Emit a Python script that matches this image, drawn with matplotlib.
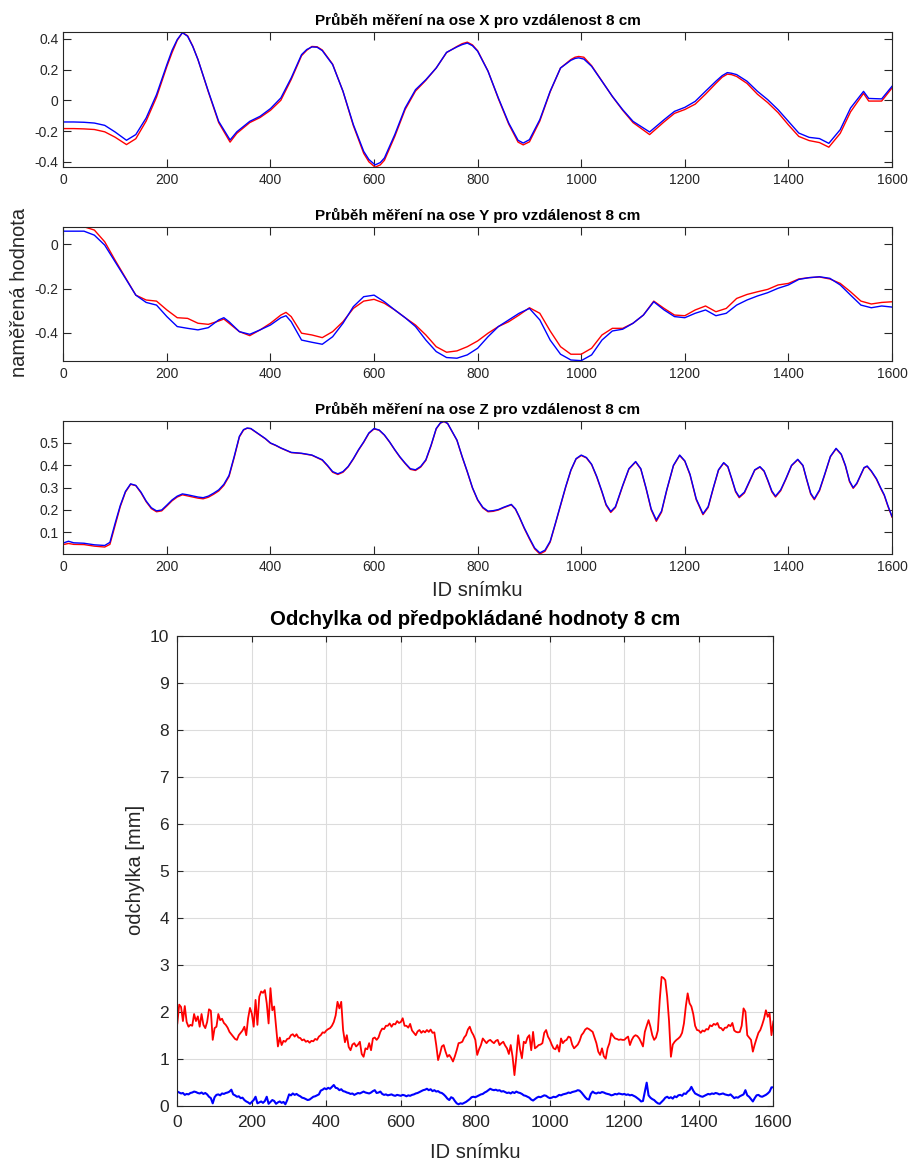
import numpy as np
import matplotlib
matplotlib.use('Agg')
import matplotlib.pyplot as plt

plt.rcParams['font.family'] = ['Liberation Sans', 'DejaVu Sans']
plt.rcParams['axes.unicode_minus'] = False

# ---------------- data ----------------
titles = ["Průběh měření na ose X pro vzdálenost 8 cm",
          "Průběh měření na ose Y pro vzdálenost 8 cm",
          "Průběh měření na ose Z pro vzdálenost 8 cm"]
bottom_title = "Odchylka od předpokládané hodnoty 8 cm"
xlabel = "ID snímku"
ylabel_top = "naměřená hodnota"
ylabel_bottom = "odchylka [mm]"

x_ticks = [0, 200, 400, 600, 800, 1000, 1200, 1400, 1600]
x_ticklabels = ["0", "200", "400", "600", "800", "1000", "1200", "1400", "1600"]

# X axis
frames_x = [0, 20, 40, 60, 80, 100, 122, 140, 160, 180,
            200, 210, 220, 230, 240, 250, 260, 280, 300, 322,
            335, 360, 380, 400, 420, 440, 460, 470, 480, 490,
            500, 520, 540, 560, 580, 590, 602, 612, 620, 640,
            660, 680, 700, 720, 740, 760, 770, 780, 790, 800,
            820, 840, 860, 878, 888, 900, 920, 940, 960, 980,
            988, 995, 1005, 1020, 1040, 1060, 1080, 1100, 1132, 1160,
            1180, 1200, 1220, 1240, 1260, 1272, 1282, 1290, 1300, 1320,
            1340, 1360, 1380, 1400, 1420, 1440, 1460, 1478, 1500, 1520,
            1545, 1555, 1580, 1600]
x_blue = [-0.141, -0.141, -0.143, -0.148, -0.163, -0.206, -0.260, -0.223, -0.115, 0.037,
          0.232, 0.325, 0.395, 0.440, 0.416, 0.350, 0.265, 0.059, -0.137, -0.258,
          -0.205, -0.137, -0.104, -0.054, 0.015, 0.145, 0.297, 0.330, 0.347, 0.345,
          0.323, 0.232, 0.059, -0.158, -0.332, -0.385, -0.420, -0.405, -0.375, -0.223,
          -0.050, 0.069, 0.134, 0.210, 0.312, 0.347, 0.362, 0.372, 0.355, 0.319,
          0.189, 0.015, -0.148, -0.260, -0.278, -0.256, -0.126, 0.059, 0.210, 0.260,
          0.272, 0.276, 0.268, 0.221, 0.124, 0.026, -0.061, -0.137, -0.206, -0.126,
          -0.072, -0.046, -0.007, 0.059, 0.124, 0.160, 0.180, 0.176, 0.167, 0.124,
          0.059, 0.004, -0.061, -0.137, -0.213, -0.241, -0.249, -0.280, -0.191, -0.050,
          0.058, 0.012, 0.009, 0.091]
x_red = [-0.184, -0.184, -0.186, -0.190, -0.205, -0.240, -0.288, -0.250, -0.135, 0.020,
         0.220, 0.310, 0.390, 0.440, 0.420, 0.352, 0.265, 0.055, -0.145, -0.272,
         -0.215, -0.145, -0.112, -0.065, 0.000, 0.135, 0.290, 0.325, 0.350, 0.348,
         0.327, 0.235, 0.058, -0.165, -0.345, -0.400, -0.435, -0.420, -0.390, -0.235,
         -0.060, 0.060, 0.130, 0.210, 0.310, 0.350, 0.368, 0.378, 0.360, 0.322,
         0.190, 0.010, -0.155, -0.272, -0.290, -0.270, -0.135, 0.055, 0.210, 0.265,
         0.280, 0.285, 0.280, 0.225, 0.125, 0.025, -0.065, -0.145, -0.223, -0.140,
         -0.085, -0.060, -0.025, 0.040, 0.110, 0.150, 0.170, 0.167, 0.155, 0.110,
         0.040, -0.015, -0.080, -0.160, -0.235, -0.262, -0.275, -0.305, -0.215, -0.075,
         0.045, -0.005, -0.005, 0.080]

# Y axis
frames_y = [0, 20, 40, 60, 80, 100, 120, 140, 160, 180,
            200, 220, 240, 260, 280, 300, 310, 320, 340, 360,
            380, 400, 420, 430, 440, 460, 480, 500, 520, 540,
            560, 580, 600, 620, 640, 660, 680, 700, 720, 740,
            760, 780, 800, 820, 840, 860, 880, 900, 920, 940,
            960, 980, 1000, 1020, 1040, 1060, 1080, 1100, 1120, 1140,
            1160, 1180, 1200, 1220, 1240, 1260, 1280, 1300, 1320, 1340,
            1360, 1380, 1400, 1420, 1440, 1460, 1480, 1500, 1520, 1540,
            1560, 1580, 1600]
y_blue = [0.060, 0.060, 0.060, 0.042, -0.003, -0.078, -0.153, -0.229, -0.262, -0.274,
          -0.326, -0.371, -0.379, -0.386, -0.376, -0.341, -0.331, -0.349, -0.394, -0.406,
          -0.386, -0.364, -0.331, -0.322, -0.349, -0.432, -0.442, -0.451, -0.417, -0.356,
          -0.281, -0.236, -0.229, -0.259, -0.296, -0.331, -0.371, -0.432, -0.484, -0.511,
          -0.514, -0.499, -0.469, -0.417, -0.371, -0.341, -0.311, -0.289, -0.341, -0.432,
          -0.496, -0.522, -0.525, -0.499, -0.432, -0.391, -0.383, -0.356, -0.319, -0.259,
          -0.296, -0.326, -0.331, -0.311, -0.296, -0.322, -0.311, -0.274, -0.251, -0.233,
          -0.218, -0.198, -0.183, -0.158, -0.150, -0.146, -0.153, -0.183, -0.229, -0.274,
          -0.286, -0.278, -0.283]
y_red = [0.080, 0.080, 0.080, 0.065, 0.012, -0.071, -0.150, -0.229, -0.251, -0.256,
         -0.296, -0.331, -0.334, -0.356, -0.361, -0.346, -0.337, -0.356, -0.394, -0.412,
         -0.386, -0.356, -0.319, -0.307, -0.326, -0.401, -0.409, -0.421, -0.394, -0.349,
         -0.289, -0.256, -0.248, -0.266, -0.296, -0.331, -0.364, -0.409, -0.462, -0.487,
         -0.481, -0.462, -0.436, -0.401, -0.371, -0.349, -0.319, -0.286, -0.311, -0.391,
         -0.462, -0.496, -0.496, -0.469, -0.409, -0.379, -0.379, -0.356, -0.319, -0.256,
         -0.289, -0.319, -0.322, -0.296, -0.278, -0.304, -0.289, -0.244, -0.226, -0.214,
         -0.203, -0.183, -0.176, -0.156, -0.150, -0.147, -0.156, -0.176, -0.214, -0.256,
         -0.269, -0.262, -0.259]

# Z axis
frames_z = [0, 10, 20, 40, 60, 80, 90, 100, 110, 120,
            130, 140, 150, 160, 170, 180, 190, 200, 210, 220,
            230, 240, 260, 270, 280, 290, 300, 310, 320, 330,
            340, 348, 355, 362, 370, 390, 400, 410, 420, 440,
            460, 480, 500, 510, 520, 530, 540, 550, 560, 570,
            580, 590, 600, 610, 620, 630, 640, 650, 660, 670,
            680, 690, 700, 710, 720, 728, 735, 742, 750, 760,
            770, 780, 790, 800, 810, 820, 830, 840, 850, 865,
            873, 880, 890, 900, 910, 920, 930, 940, 950, 960,
            970, 980, 990, 1000, 1010, 1020, 1030, 1040, 1048, 1057,
            1066, 1080, 1092, 1105, 1115, 1125, 1135, 1145, 1155, 1165,
            1178, 1190, 1200, 1210, 1222, 1235, 1245, 1255, 1265, 1275,
            1283, 1290, 1298, 1305, 1315, 1325, 1335, 1345, 1353, 1360,
            1368, 1375, 1385, 1395, 1406, 1418, 1428, 1435, 1443, 1450,
            1460, 1470, 1481, 1492, 1502, 1510, 1518, 1525, 1532, 1540,
            1546, 1552, 1560, 1570, 1578, 1585, 1592, 1600]
z_blue = [0.052, 0.060, 0.053, 0.051, 0.044, 0.041, 0.055, 0.140, 0.220, 0.283,
          0.317, 0.310, 0.280, 0.240, 0.210, 0.196, 0.200, 0.222, 0.245, 0.262,
          0.272, 0.268, 0.258, 0.255, 0.262, 0.275, 0.290, 0.315, 0.355, 0.440,
          0.530, 0.560, 0.567, 0.565, 0.552, 0.520, 0.500, 0.490, 0.478, 0.458,
          0.454, 0.446, 0.425, 0.400, 0.372, 0.362, 0.372, 0.395, 0.430, 0.470,
          0.505, 0.545, 0.565, 0.558, 0.536, 0.505, 0.470, 0.438, 0.410, 0.385,
          0.380, 0.395, 0.425, 0.490, 0.565, 0.590, 0.597, 0.588, 0.555, 0.513,
          0.440, 0.372, 0.300, 0.246, 0.212, 0.195, 0.197, 0.202, 0.212, 0.225,
          0.205, 0.172, 0.120, 0.074, 0.030, 0.008, 0.020, 0.060, 0.140, 0.223,
          0.305, 0.379, 0.430, 0.446, 0.435, 0.405, 0.350, 0.283, 0.225, 0.193,
          0.215, 0.310, 0.385, 0.417, 0.385, 0.300, 0.205, 0.155, 0.195, 0.290,
          0.400, 0.446, 0.420, 0.360, 0.250, 0.183, 0.215, 0.300, 0.380, 0.412,
          0.395, 0.345, 0.285, 0.259, 0.280, 0.330, 0.380, 0.394, 0.375, 0.335,
          0.285, 0.262, 0.290, 0.340, 0.400, 0.427, 0.400, 0.340, 0.275, 0.250,
          0.290, 0.360, 0.440, 0.476, 0.450, 0.400, 0.330, 0.300, 0.320, 0.360,
          0.390, 0.397, 0.375, 0.340, 0.300, 0.268, 0.220, 0.171]
z_red = [0.045, 0.050, 0.046, 0.045, 0.038, 0.034, 0.046, 0.130, 0.215, 0.280,
         0.315, 0.309, 0.277, 0.237, 0.206, 0.192, 0.196, 0.218, 0.241, 0.258,
         0.268, 0.263, 0.253, 0.250, 0.257, 0.270, 0.285, 0.310, 0.350, 0.435,
         0.527, 0.558, 0.566, 0.564, 0.551, 0.519, 0.499, 0.489, 0.477, 0.457,
         0.453, 0.445, 0.423, 0.398, 0.369, 0.359, 0.369, 0.393, 0.428, 0.468,
         0.503, 0.543, 0.563, 0.557, 0.535, 0.504, 0.469, 0.436, 0.408, 0.382,
         0.377, 0.392, 0.422, 0.487, 0.563, 0.589, 0.596, 0.587, 0.554, 0.512,
         0.438, 0.370, 0.298, 0.244, 0.209, 0.192, 0.194, 0.200, 0.210, 0.223,
         0.203, 0.170, 0.117, 0.070, 0.026, 0.003, 0.015, 0.056, 0.137, 0.220,
         0.302, 0.377, 0.428, 0.444, 0.433, 0.403, 0.347, 0.280, 0.221, 0.189,
         0.211, 0.307, 0.383, 0.415, 0.383, 0.297, 0.201, 0.149, 0.190, 0.287,
         0.398, 0.444, 0.418, 0.357, 0.246, 0.179, 0.211, 0.297, 0.378, 0.410,
         0.393, 0.342, 0.281, 0.255, 0.276, 0.327, 0.378, 0.392, 0.373, 0.332,
         0.281, 0.258, 0.286, 0.337, 0.398, 0.425, 0.398, 0.337, 0.271, 0.246,
         0.286, 0.357, 0.438, 0.474, 0.448, 0.397, 0.326, 0.297, 0.317, 0.357,
         0.388, 0.395, 0.373, 0.337, 0.297, 0.265, 0.217, 0.168]

# deviation plot (every 5th frame)
frames_dev = np.arange(0, 1601, 5)
dev_red = [
    1.75, 2.15, 2.10, 1.80, 2.12, 1.78, 1.68, 1.72, 1.70, 1.95, 1.80, 1.90, 1.68, 1.95, 1.72, 1.65, 1.78, 2.05, 2.02, 1.40,
    1.65, 1.68, 1.95, 1.82, 1.85, 1.76, 1.72, 1.66, 1.57, 1.52, 1.47, 1.42, 1.40, 1.50, 1.55, 1.60, 1.68, 1.50, 1.86, 2.08,
    1.96, 1.68, 2.25, 1.72, 2.32, 2.43, 2.40, 2.46, 2.18, 1.75, 2.50, 2.03, 2.11, 1.68, 1.26, 1.45, 1.29, 1.38, 1.36, 1.42,
    1.43, 1.50, 1.52, 1.47, 1.52, 1.45, 1.44, 1.39, 1.41, 1.36, 1.38, 1.34, 1.38, 1.37, 1.42, 1.40, 1.47, 1.50, 1.56, 1.55,
    1.60, 1.63, 1.65, 1.70, 1.78, 1.92, 2.21, 2.07, 2.21, 1.61, 1.35, 1.50, 1.25, 1.18, 1.30, 1.33, 1.26, 1.30, 1.36, 1.10,
    1.04, 1.22, 1.20, 1.33, 1.18, 1.43, 1.45, 1.40, 1.45, 1.57, 1.64, 1.63, 1.70, 1.70, 1.75, 1.68, 1.74, 1.73, 1.80, 1.76,
    1.78, 1.86, 1.70, 1.70, 1.66, 1.74, 1.60, 1.55, 1.50, 1.58, 1.61, 1.55, 1.59, 1.56, 1.61, 1.57, 1.62, 1.55, 1.56, 1.29,
    0.97, 1.10, 1.26, 1.29, 1.15, 1.04, 1.08, 1.02, 0.94, 1.05, 1.18, 1.33, 1.34, 1.36, 1.45, 1.50, 1.62, 1.68, 1.57, 1.50,
    1.40, 1.08, 1.20, 1.29, 1.43, 1.38, 1.33, 1.38, 1.40, 1.36, 1.33, 1.38, 1.40, 1.29, 1.33, 1.36, 1.28, 1.22, 1.10, 1.29,
    1.04, 0.65, 1.04, 1.50, 1.20, 1.01, 1.36, 1.33, 1.45, 1.50, 1.18, 1.57, 1.22, 1.25, 1.29, 1.30, 1.33, 1.55, 1.61, 1.47,
    1.40, 1.30, 1.22, 1.20, 1.29, 1.15, 1.43, 1.33, 1.38, 1.40, 1.47, 1.45, 1.30, 1.22, 1.26, 1.30, 1.38, 1.50, 1.55, 1.62,
    1.65, 1.63, 1.60, 1.57, 1.45, 1.33, 1.15, 1.08, 1.22, 1.05, 1.00, 1.22, 1.33, 1.54, 1.48, 1.43, 1.42, 1.40, 1.41, 1.40,
    1.40, 1.44, 1.47, 1.29, 1.40, 1.47, 1.50, 1.48, 1.43, 1.35, 1.26, 1.57, 1.70, 1.82, 1.68, 1.50, 1.40, 1.45, 1.60, 2.25,
    2.74, 2.72, 2.67, 2.32, 1.80, 1.04, 1.30, 1.36, 1.40, 1.43, 1.47, 1.55, 1.75, 2.11, 2.39, 2.18, 2.11, 1.95, 1.70, 1.61,
    1.60, 1.55, 1.60, 1.58, 1.63, 1.62, 1.71, 1.69, 1.74, 1.72, 1.76, 1.66, 1.65, 1.60, 1.66, 1.66, 1.72, 1.69, 1.76, 1.60,
    1.57, 1.56, 1.57, 1.70, 2.07, 2.00, 1.50, 1.45, 1.40, 1.15, 1.30, 1.43, 1.55, 1.61, 1.72, 1.85, 2.03, 1.89, 1.96, 1.50,
    1.79]
dev_blue = [
    0.30, 0.28, 0.26, 0.27, 0.23, 0.25, 0.24, 0.27, 0.28, 0.30, 0.29, 0.27, 0.26, 0.28, 0.25, 0.27, 0.24, 0.19, 0.16, 0.05,
    0.18, 0.23, 0.24, 0.22, 0.26, 0.25, 0.27, 0.28, 0.30, 0.34, 0.24, 0.22, 0.19, 0.20, 0.16, 0.17, 0.12, 0.09, 0.07, 0.04,
    0.08, 0.12, 0.19, 0.05, 0.07, 0.09, 0.06, 0.10, 0.19, 0.04, 0.08, 0.12, 0.10, 0.04, 0.07, 0.09, 0.06, 0.08, 0.03, 0.12,
    0.24, 0.22, 0.26, 0.23, 0.25, 0.22, 0.20, 0.17, 0.16, 0.14, 0.12, 0.13, 0.16, 0.19, 0.20, 0.22, 0.24, 0.32, 0.34, 0.37,
    0.35, 0.38, 0.36, 0.40, 0.44, 0.38, 0.37, 0.33, 0.35, 0.31, 0.30, 0.28, 0.27, 0.25, 0.26, 0.23, 0.25, 0.27, 0.26, 0.28,
    0.30, 0.28, 0.27, 0.26, 0.28, 0.31, 0.33, 0.27, 0.28, 0.30, 0.25, 0.23, 0.24, 0.22, 0.23, 0.24, 0.22, 0.21, 0.23, 0.22,
    0.21, 0.23, 0.22, 0.20, 0.22, 0.21, 0.23, 0.24, 0.26, 0.27, 0.29, 0.31, 0.33, 0.34, 0.36, 0.33, 0.35, 0.31, 0.33, 0.30,
    0.31, 0.28, 0.27, 0.24, 0.20, 0.15, 0.12, 0.18, 0.16, 0.10, 0.05, 0.03, 0.05, 0.04, 0.06, 0.08, 0.11, 0.14, 0.18, 0.19,
    0.18, 0.20, 0.22, 0.24, 0.25, 0.28, 0.30, 0.33, 0.36, 0.34, 0.33, 0.34, 0.32, 0.33, 0.30, 0.31, 0.29, 0.27, 0.28, 0.26,
    0.29, 0.27, 0.30, 0.28, 0.27, 0.25, 0.22, 0.21, 0.19, 0.17, 0.13, 0.11, 0.14, 0.17, 0.19, 0.18, 0.20, 0.22, 0.21, 0.18,
    0.16, 0.17, 0.19, 0.18, 0.20, 0.23, 0.22, 0.24, 0.25, 0.26, 0.28, 0.27, 0.29, 0.30, 0.31, 0.33, 0.32, 0.28, 0.23, 0.18,
    0.14, 0.13, 0.25, 0.30, 0.27, 0.26, 0.28, 0.27, 0.29, 0.28, 0.26, 0.25, 0.24, 0.22, 0.23, 0.25, 0.24, 0.26, 0.25, 0.24,
    0.25, 0.23, 0.24, 0.22, 0.23, 0.21, 0.19, 0.16, 0.13, 0.09, 0.10, 0.30, 0.49, 0.22, 0.17, 0.14, 0.12, 0.08, 0.05, 0.04,
    0.08, 0.12, 0.17, 0.19, 0.16, 0.18, 0.15, 0.20, 0.18, 0.22, 0.23, 0.21, 0.26, 0.25, 0.30, 0.33, 0.40, 0.32, 0.26, 0.24,
    0.22, 0.20, 0.19, 0.21, 0.23, 0.25, 0.24, 0.26, 0.25, 0.27, 0.26, 0.24, 0.25, 0.26, 0.24, 0.23, 0.22, 0.24, 0.20, 0.16,
    0.18, 0.17, 0.20, 0.22, 0.24, 0.33, 0.22, 0.19, 0.14, 0.09, 0.16, 0.22, 0.23, 0.20, 0.19, 0.21, 0.23, 0.26, 0.30, 0.39,
    0.39]

y1_ticks = [-0.4, -0.2, 0, 0.2, 0.4]
y1_labels = ["-0.4", "-0.2", "0", "0.2", "0.4"]
y2_ticks = [-0.4, -0.2, 0]
y2_labels = ["-0.4", "-0.2", "0"]
y3_ticks = [0.1, 0.2, 0.3, 0.4, 0.5]
y3_labels = ["0.1", "0.2", "0.3", "0.4", "0.5"]
y4_ticks = list(range(0, 11))
y4_labels = [str(v) for v in y4_ticks]

# ---------------- figure ----------------
AXC = '#262626'
fig = plt.figure(figsize=(9.08, 11.64), dpi=100)


def style(ax, ticklen, fs, padx, pady):
    ax.tick_params(axis='both', direction='in', top=True, right=True,
                   length=ticklen, width=0.8, color=AXC,
                   labelsize=fs, labelcolor=AXC)
    ax.tick_params(axis='x', pad=padx)
    ax.tick_params(axis='y', pad=pady)
    for s in ax.spines.values():
        s.set_color(AXC)
        s.set_linewidth(0.8)


top_rects = [[0.0697, 0.8565, 0.9127, 0.1160],
             [0.0697, 0.6896, 0.9127, 0.1156],
             [0.0697, 0.5238, 0.9127, 0.1148]]
series = [(frames_x, x_red, x_blue, (-0.434, 0.444), y1_ticks, y1_labels),
          (frames_y, y_red, y_blue, (-0.528, 0.080), y2_ticks, y2_labels),
          (frames_z, z_red, z_blue, (0.0015, 0.600), y3_ticks, y3_labels)]
title_y = [0.9828, 0.8153, 0.6486]

for rect, (fr, r, b, yl, yt, ytl), ty, tt in zip(top_rects, series, title_y, titles):
    ax = fig.add_axes(rect)
    ax.plot(fr, r, color='#ff0000', lw=1.0)
    ax.plot(fr, b, color='#0000ff', lw=1.0)
    ax.set_xlim(0, 1600)
    ax.set_ylim(*yl)
    ax.set_xticks(x_ticks)
    ax.set_xticklabels(x_ticklabels)
    ax.set_yticks(yt)
    ax.set_yticklabels(ytl)
    style(ax, 5.8, 10, 4.3, 3.5)
    fig.text(0.526, ty, tt, ha='center', va='center', fontsize=11,
             fontweight='bold', color='black')

fig.text(0.526, 0.4931, xlabel, ha='center', va='center', fontsize=14.5, color=AXC)
fig.text(0.022, 0.749, ylabel_top, ha='center', va='center', rotation=90,
         fontsize=14.5, color=AXC)

ax4 = fig.add_axes([0.1953, 0.0501, 0.6564, 0.4038])
ax4.grid(True, color='#dcdcdc', lw=0.8)
ax4.set_axisbelow(True)
ax4.plot(frames_dev, dev_red, color='#ff0000', lw=1.3)
ax4.plot(frames_dev, dev_blue, color='#0000ff', lw=1.5)
ax4.set_xlim(0, 1600)
ax4.set_ylim(0, 10)
ax4.set_xticks(x_ticks)
ax4.set_xticklabels(x_ticklabels)
ax4.set_yticks(y4_ticks)
ax4.set_yticklabels(y4_labels)
style(ax4, 4.3, 12.5, 6.5, 6.0)
fig.text(0.5235, 0.4674, bottom_title, ha='center', va='center', fontsize=14.7,
         fontweight='bold', color='black')
fig.text(0.5235, 0.0103, xlabel, ha='center', va='center', fontsize=14.5, color=AXC)
fig.text(0.1487, 0.2526, ylabel_bottom, ha='center', va='center', rotation=90,
         fontsize=14.5, color=AXC)

fig.savefig('out.png', dpi=100)
